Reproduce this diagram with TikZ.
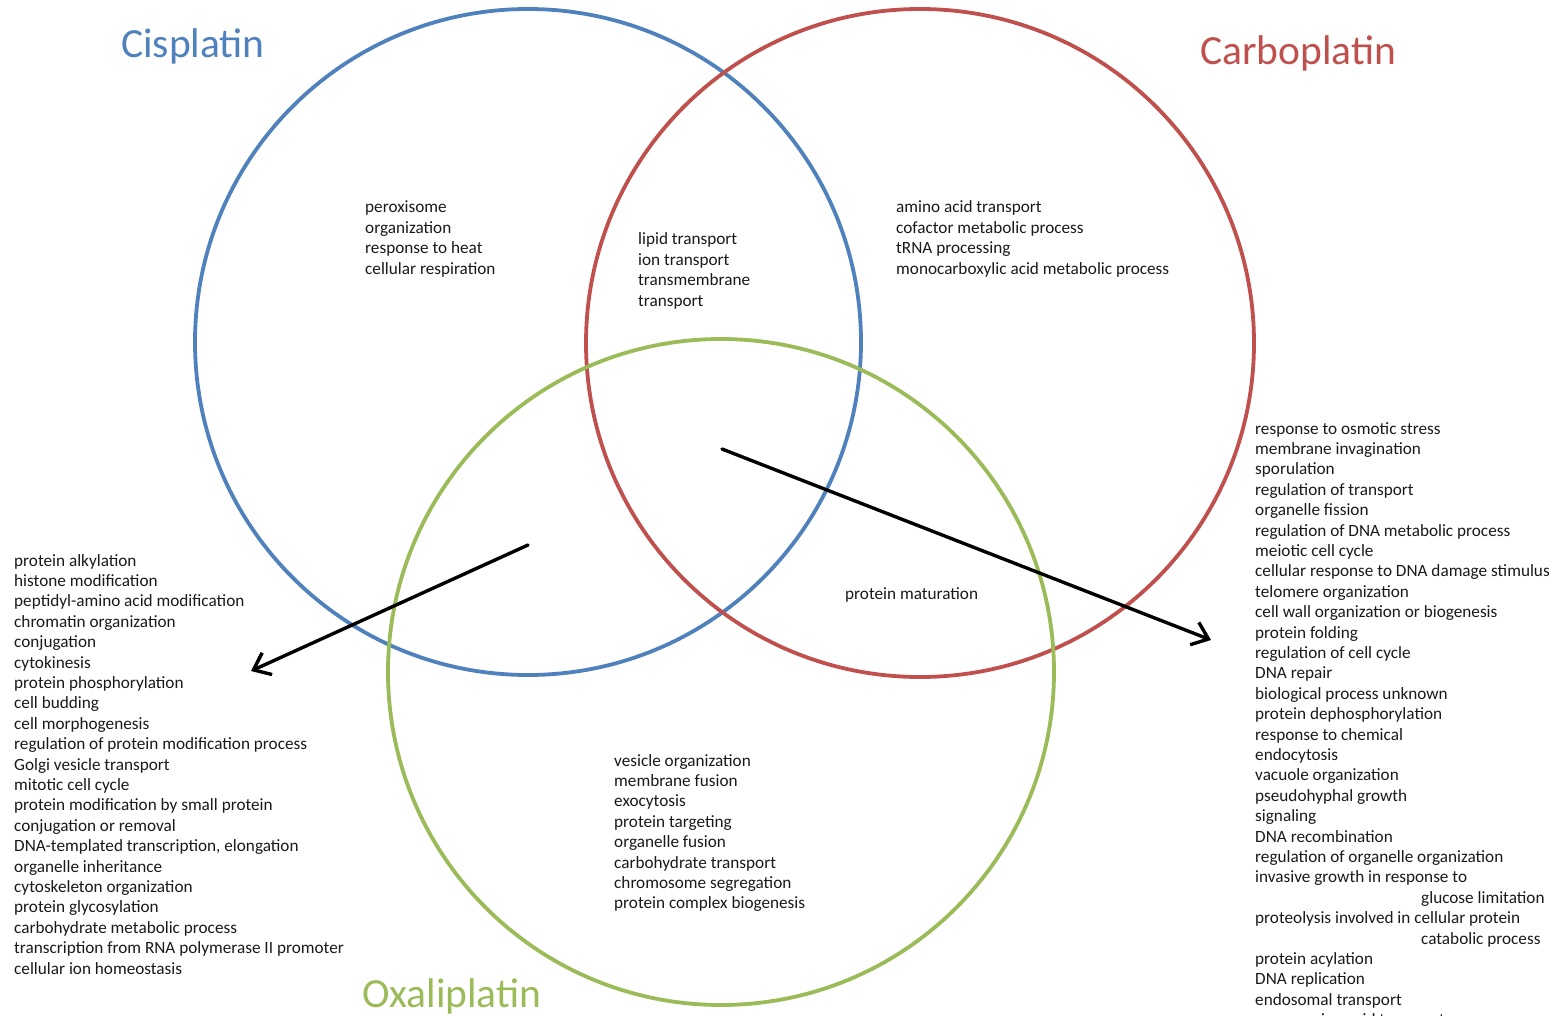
\documentclass[tikz,border=0pt]{standalone}
\usepackage{fontspec}
\setmainfont{Carlito}
\usetikzlibrary{arrows.meta}
\definecolor{cisblue}{HTML}{4F81BD}
\definecolor{carbred}{HTML}{C0504D}
\definecolor{oxagreen}{HTML}{9BBB59}
\definecolor{termtext}{HTML}{1A1A1A}
\begin{document}
\begin{tikzpicture}[x=1pt,y=-1pt,
  ring/.style={line width=3.8pt},
  drugtitle/.style={font=\fontsize{41.5}{48}\selectfont, anchor=base west, inner sep=0pt},
  term/.style={font=\fontsize{17.2}{20.4}\selectfont, anchor=base west, inner sep=0pt, text=termtext},
  pointer/.style={line width=3.4pt, line cap=round, -{Straight Barb[length=15pt,width=24pt,line width=3.4pt]}}]
\useasboundingbox (0,0) rectangle (1555,1016);
\fill[white] (0,0) rectangle (1555,1016);

% the three sets
\draw[ring, cisblue]  (528,342) circle[radius=333pt];
\draw[ring, carbred]  (920,343) circle[radius=334pt];
\draw[ring, oxagreen] (721,672) circle[radius=333pt];

% set names
\node[drugtitle, text=cisblue]  (tcis)  at (121,58)   {Cisplatin};
\node[drugtitle, text=carbred]  (tcarb) at (1200,65)  {Carboplatin};
\node[drugtitle, text=oxagreen] (toxa)  at (362,1007) {Oxaliplatin};

% Cisplatin only
\foreach \t [count=\i from 0] in {peroxisome, organization, response to heat, cellular respiration}
  \node[term] (cis-\i) at (365,213+\i*20.4) {\t};

% Cisplatin and Carboplatin
\foreach \t [count=\i from 0] in {lipid transport, ion transport, transmembrane, transport}
  \node[term] (ciscarb-\i) at (638,245+\i*20.4) {\t};

% Carboplatin only
\foreach \t [count=\i from 0] in {amino acid transport, cofactor metabolic process, tRNA processing, monocarboxylic acid metabolic process}
  \node[term] (carb-\i) at (896,213+\i*20.4) {\t};

% Carboplatin and Oxaliplatin
\node[term] (carboxa) at (845,599) {protein maturation};

% Oxaliplatin only
\foreach \t [count=\i from 0] in {vesicle organization, membrane fusion, exocytosis, protein targeting, organelle fusion, carbohydrate transport, chromosome segregation, protein complex biogenesis}
  \node[term] (oxa-\i) at (614,766+\i*20.4) {\t};

% list pointed to from the Cisplatin and Oxaliplatin overlap
\foreach \t [count=\i from 0] in {protein alkylation, histone modification, peptidyl-amino acid modification, chromatin organization, conjugation, cytokinesis, protein phosphorylation, cell budding, cell morphogenesis, regulation of protein modification process, Golgi vesicle transport, mitotic cell cycle, protein modification by small protein, conjugation or removal, {DNA-templated transcription, elongation}, organelle inheritance, cytoskeleton organization, protein glycosylation, carbohydrate metabolic process, transcription from RNA polymerase II promoter, cellular ion homeostasis}
  \node[term] (left-\i) at (14,566+\i*20.4) {\t};

% list pointed to from the centre of all three sets
\foreach \t [count=\i from 0] in {response to osmotic stress, membrane invagination, sporulation, regulation of transport, organelle fission, regulation of DNA metabolic process, meiotic cell cycle, cellular response to DNA damage stimulus, telomere organization, cell wall organization or biogenesis, protein folding, regulation of cell cycle, DNA repair, biological process unknown, protein dephosphorylation, response to chemical, endocytosis, vacuole organization, pseudohyphal growth, signaling, DNA recombination, regulation of organelle organization, invasive growth in response to, \hspace*{166pt}glucose limitation, proteolysis involved in cellular protein, \hspace*{166pt}catabolic process, protein acylation, DNA replication, endosomal transport, \hspace*{44pt}amino acid transport}
  \node[term] (right-\i) at (1255,434+\i*20.4) {\t};

% pointers
\coordinate (lstart) at (528,545);
\coordinate (lend)   at (251,671);
\coordinate (rstart) at (722,449);
\coordinate (rend)   at (1211,640);
\draw[pointer] (lstart) -- (lend);
\draw[pointer] (rstart) -- (rend);
\end{tikzpicture}
\end{document}
